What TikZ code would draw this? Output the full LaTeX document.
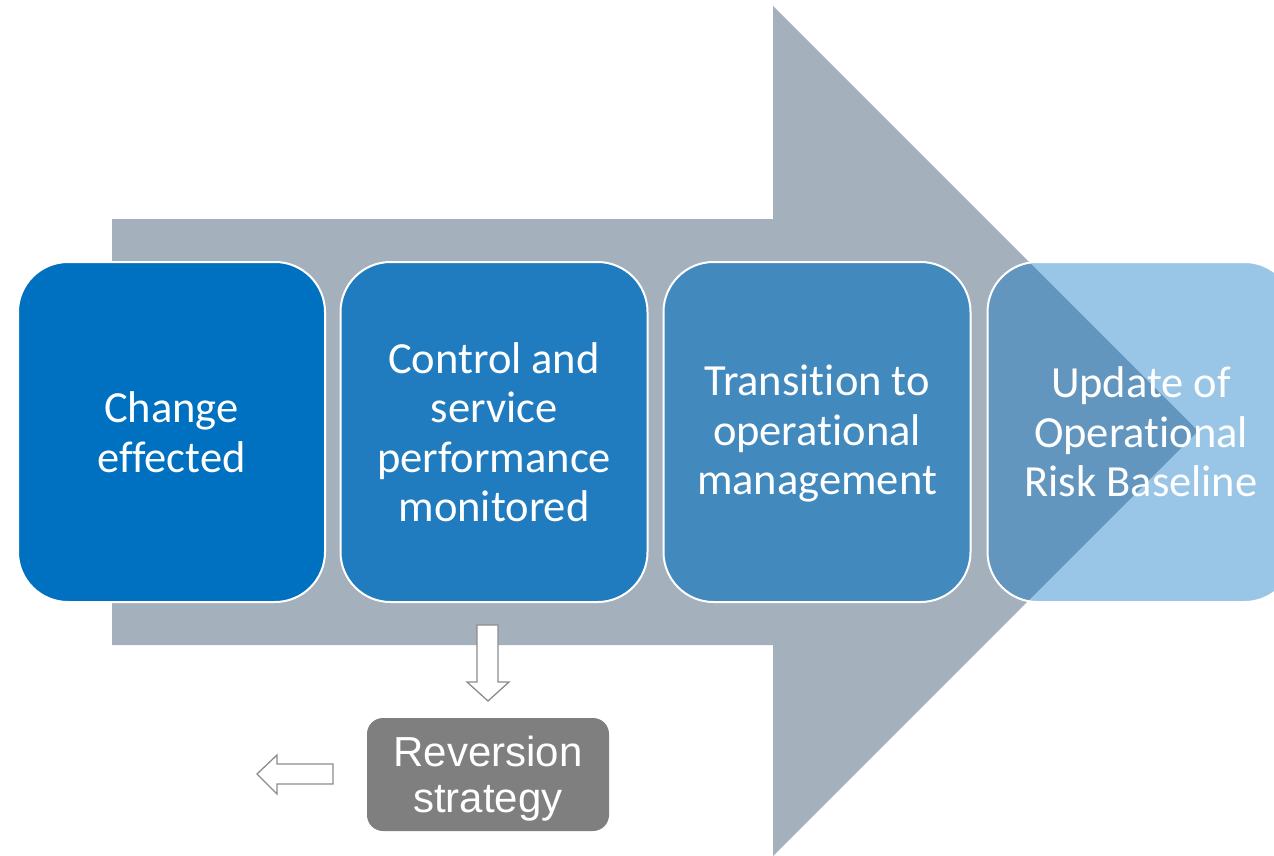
\documentclass[tikz,border=0pt]{standalone}
\usepackage{fontspec}
\setmainfont[Ligatures=NoCommon]{Carlito}
\newfontfamily\arialf{Liberation Sans}
\definecolor{mainblue}{HTML}{0070C0}
\definecolor{arrowgray}{HTML}{A5B0BD}
\definecolor{revgray}{HTML}{7F7F7F}
\definecolor{outlinegray}{HTML}{8C8C8C}
\begin{document}
\begin{tikzpicture}[x=1pt,y=-1pt,
  stage/.style={draw=white, line width=2pt, rounded corners=50pt,
    minimum width=307pt, minimum height=340pt, inner sep=0pt,
    text=white, text opacity=1, align=center,
    font=\fontsize{44.5}{49.5}\selectfont, fill=mainblue},
  revbox/.style={fill=revgray, rounded corners=16pt, minimum width=242pt,
    minimum height=113pt, inner sep=0pt, text=white, align=center,
    font=\arialf\fontsize{42}{46}\selectfont},
  hollow/.style={draw=outlinegray, line width=1.3pt, fill=white}]
\useasboundingbox (0,0) rectangle (1274,856);
\clip (0,0) rectangle (1274,856);
% big background arrow
\fill[arrowgray] (112,219) -- (773,219) -- (773,6) -- (1198,431)
  -- (773,856) -- (773,645) -- (112,645) -- cycle;
% stages
\node[stage] (s1) at (171.5,432) {Change\\effected};
\node[stage, fill opacity=0.8] (s2) at (494,432) {Control and\\service\\performance\\monitored};
\node[stage, fill opacity=0.6] (s3) at (817,432) {\raisebox{-2pt}[\height][\depth]{\parbox{300pt}{\centering Transition to\\operational\\management}}};
\node[stage, fill opacity=0.4] (s4) at (1141,432) {Update of\\Operational\\Risk Baseline};
% reversion
\node[revbox] (rev) at (488,774.5) {\raisebox{-4pt}[\height][\depth]{\parbox{240pt}{\centering Reversion\\strategy}}};
% down hollow arrow
\draw[hollow] (477,625) -- (498,625) -- (498,682) -- (509,682) -- (488,701)
  -- (467,682) -- (477,682) -- cycle;
% left hollow arrow
\draw[hollow] (333,764) -- (277,764) -- (277,755) -- (257,774) -- (277,794)
  -- (277,784) -- (333,784) -- cycle;
\end{tikzpicture}
\end{document}
